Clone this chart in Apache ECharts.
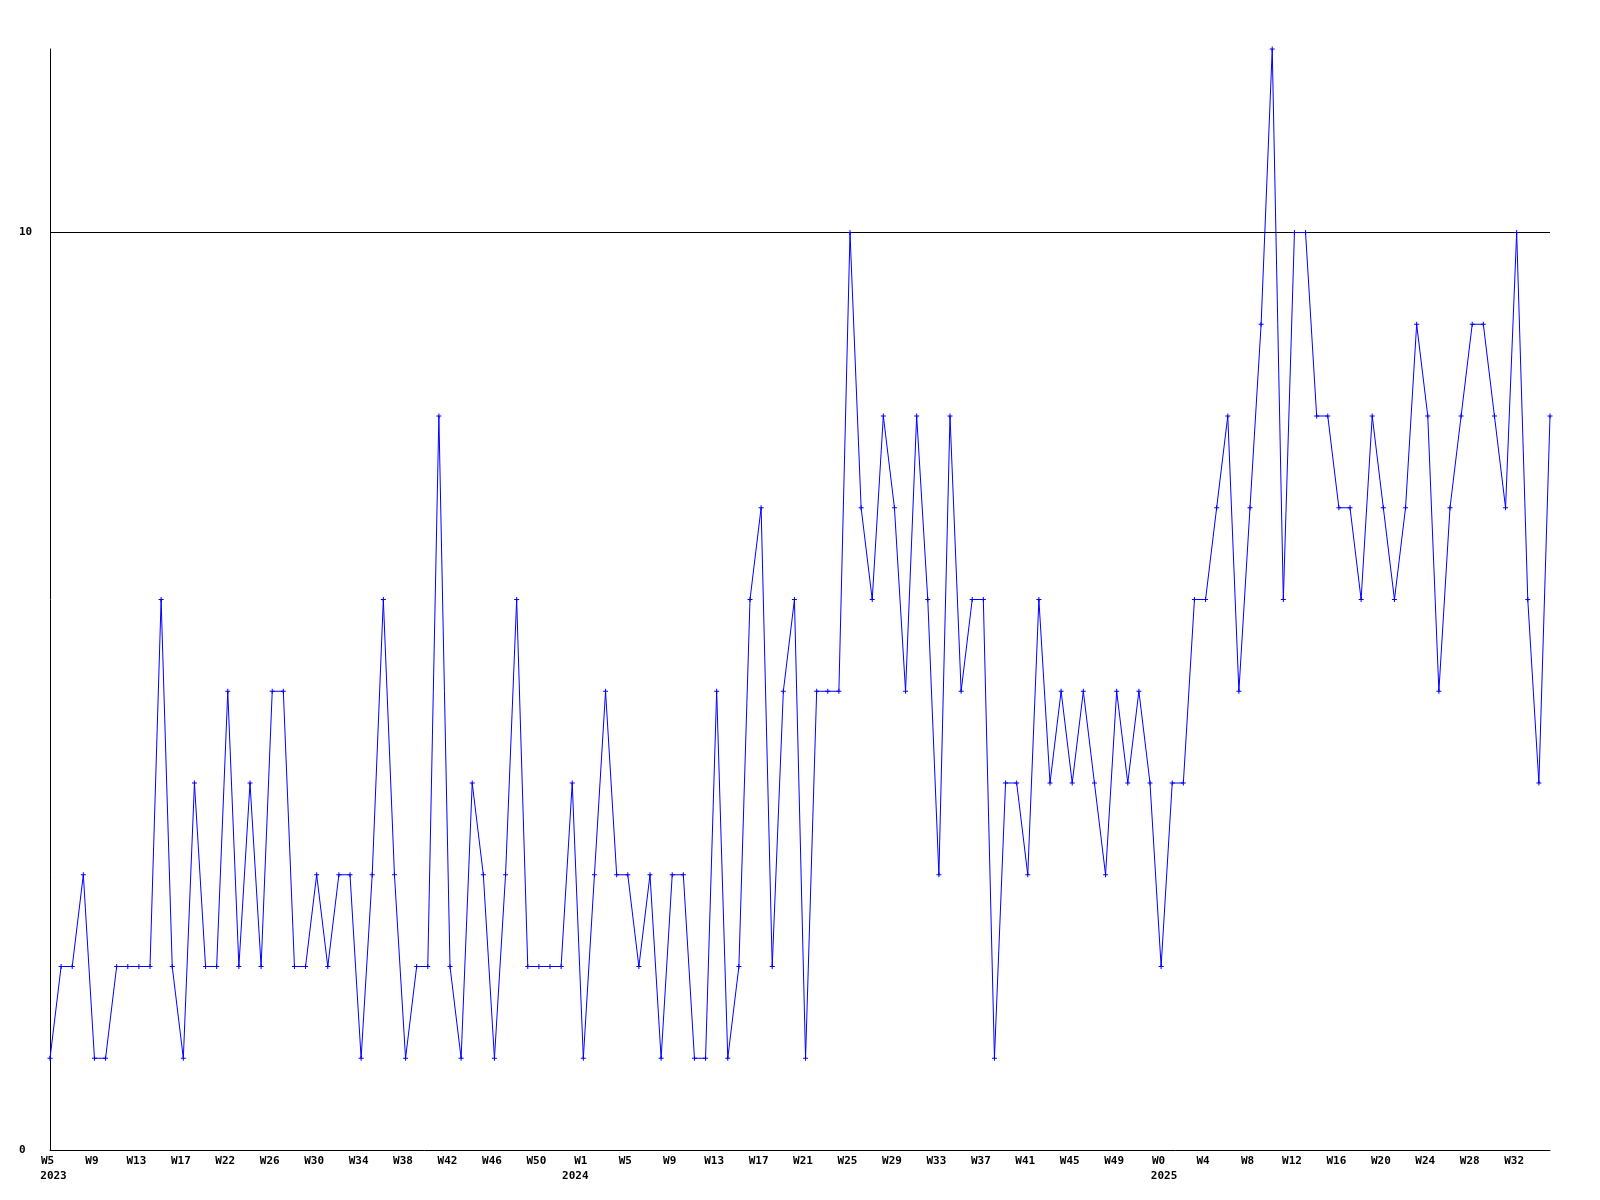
<!DOCTYPE html>
<html>
<head>
<meta charset="utf-8">
<script src="https://cdn.jsdelivr.net/npm/echarts@6/dist/echarts.min.js"></script>
<style>
html,body{margin:0;padding:0;background:#fff;}
#chart{width:1600px;height:1200px;}
</style>
</head>
<body>
<div id="chart"></div>
<script>
// Weekly values, 2023 W5 .. 2025 W35 (136 weeks)
const values = [
  1,2,2,3,1,1,2,2,2,2, 6,2,1,4,2,2,5,2,4,2,
  5,5,2,2,3,2,3,3,1,3, 6,3,1,2,2,8,2,1,4,3,
  1,3,6,2,2,2,2,4,1,3, 5,3,3,2,3,1,3,3,1,1,
  5,1,2,6,7,2,5,6,1,5, 5,5,10,7,6,8,7,5,8,6,
  3,8,5,6,6,1,4,4,3,6, 4,5,4,5,4,3,5,4,5,4,
  2,4,4,6,6,7,8,5,7,9, 12,6,10,10,8,8,7,7,6,8,
  7,6,7,9,8,5,7,8,9,9, 8,7,10,6,4,8
];
// Tick labels shown every 4th week
const tickLabels = [
  'W5','W9','W13','W17','W22','W26','W30','W34','W38','W42','W46','W50',
  'W1','W5','W9','W13','W17','W21','W25','W29','W33','W37','W41','W45','W49',
  'W0','W4','W8','W12','W16','W20','W24','W28','W32'
];
const yearLabels = {0: '2023', 12: '2024', 25: '2025'};
const yearStyles = {0: 'ya', 12: 'yb', 25: 'yc'};
const categories = values.map((v, i) => String(i));

const chart = echarts.init(document.getElementById('chart'), null, {renderer: 'canvas'});
const font = 'DejaVu Sans Mono';
const base = {fontFamily: font, fontWeight: 'bold', fontSize: 11, color: '#000', lineHeight: 15};
chart.setOption({
  animation: false,
  backgroundColor: '#ffffff',
  grid: {left: 50, right: 50, top: 49, bottom: 50, containLabel: false},
  xAxis: {
    type: 'category',
    data: categories,
    boundaryGap: false,
    axisLine: {show: true, lineStyle: {color: '#000', width: 1}},
    axisTick: {show: false},
    splitLine: {show: false},
    axisLabel: {
      interval: 3,
      margin: 4,
      color: '#000',
      fontFamily: font,
      fontWeight: 'bold',
      fontSize: 11,
      lineHeight: 15,
      formatter: function (val, idx) {
        const k = idx / 4;
        if (idx % 4 !== 0 || k >= tickLabels.length) return '';
        let s = '{w|' + tickLabels[k] + '}';
        if (yearLabels[k]) s += '\n{' + yearStyles[k] + '|' + yearLabels[k] + '}';
        return s;
      },
      rich: {
        w: Object.assign({}, base, {padding: [0, 5, 0, 0]}),
        ya: Object.assign({}, base, {padding: [0, 0, 0, 7]}),
        yb: Object.assign({}, base, {padding: [0, 16, 0, 0]}),
        yc: Object.assign({}, base, {padding: [0, 0, 0, 6]})
      }
    }
  },
  yAxis: {
    type: 'value',
    min: 0,
    max: 12,
    interval: 10,
    axisLine: {show: true, lineStyle: {color: '#000', width: 1}},
    axisTick: {show: false},
    splitLine: {show: true, showMinLine: false, showMaxLine: false, lineStyle: {color: '#000', width: 1}},
    axisLabel: {
      showMaxLabel: false,
      align: 'left',
      margin: 31,
      color: '#000',
      fontFamily: font,
      fontWeight: 'bold',
      fontSize: 11,
      formatter: function (v) { return (v === 0 || v === 10) ? String(v) : ''; }
    }
  },
  series: [{
    type: 'line',
    data: values,
    symbol: 'path://M2,0h1v2h2v1h-2v2h-1v-2h-2v-1h2z',
    symbolSize: 5,
    showAllSymbol: true,
    lineStyle: {color: '#0000ff', width: 1},
    itemStyle: {color: '#0000ff'},
    clip: true
  }]
});
</script>
</body>
</html>
